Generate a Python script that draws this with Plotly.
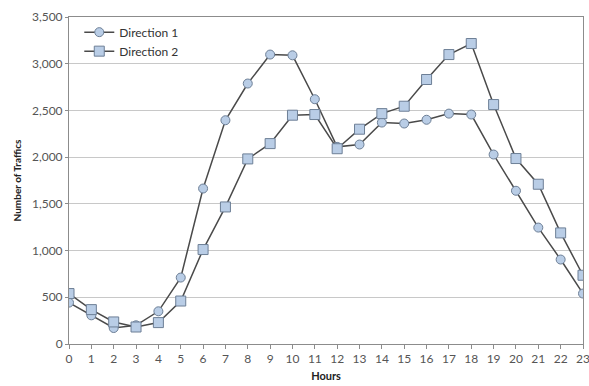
import plotly.graph_objects as go

hours = list(range(24))
direction1 = [443, 307, 171, 200, 350, 711, 1664, 2395, 2788, 3098, 3090, 2620, 2110, 2135,
              2370, 2360, 2400, 2466, 2456, 2028, 1640, 1246, 904, 540]
direction2 = [540, 368, 236, 182, 229, 460, 1011, 1467, 1981, 2145, 2449, 2456, 2090, 2299,
              2466, 2545, 2831, 3098, 3216, 2563, 1985, 1710, 1189, 736]
y_ticks = [0, 500, 1000, 1500, 2000, 2500, 3000, 3500]

line_col = "#4a4a4a"
fill_col = "#b9cde6"

fig = go.Figure()
fig.add_trace(go.Scatter(
    x=hours, y=direction1, name="Direction 1", mode="lines+markers",
    line=dict(color=line_col, width=1.5),
    marker=dict(symbol="circle", size=9, color=fill_col, line=dict(color="#6d7f96", width=1)),
))
fig.add_trace(go.Scatter(
    x=hours, y=direction2, name="Direction 2", mode="lines+markers",
    line=dict(color=line_col, width=1.5),
    marker=dict(symbol="square", size=10, color=fill_col, line=dict(color="#6d7f96", width=1)),
))

fig.update_layout(
    width=589, height=386,
    margin=dict(l=69, r=6, t=17, b=42),
    paper_bgcolor="white", plot_bgcolor="white",
    font=dict(family="Lato, Open Sans, sans-serif", color="#404040", size=11),
    showlegend=True,
    legend=dict(x=0.02, y=0.998, xanchor="left", yanchor="top",
                bgcolor="rgba(0,0,0,0)", font=dict(size=12, color="#333333"),
                itemwidth=30, tracegroupgap=0),
    xaxis=dict(
        range=[0, 23], tickmode="array", tickvals=hours, ticktext=[str(h) for h in hours],
        showgrid=False, showline=True, linecolor="#8c8c8c", linewidth=1, mirror=True,
        ticks="outside", ticklen=4, tickcolor="#8c8c8c", ticklabeloverflow="allow",
        automargin=False,
        title=dict(text="<b>Hours</b>", font=dict(size=11, color="#222222"), standoff=6),
        tickfont=dict(size=12, color="#555555"), zeroline=False,
    ),
    yaxis=dict(
        range=[0, 3500], tickmode="array", tickvals=y_ticks, tickformat=",",
        showgrid=True, gridcolor="#c8c8c8", gridwidth=1,
        showline=True, linecolor="#8c8c8c", linewidth=1, mirror=True,
        ticks="outside", ticklen=3, tickcolor="#8c8c8c", automargin=False,
        title=dict(text="<b>Number of Traffics</b>", font=dict(size=10, color="#222222"), standoff=8),
        tickfont=dict(size=12, color="#555555"), zeroline=False,
    ),
)

fig.write_html("out.html", config={"displayModeBar": False},
               post_script="document.body.style.margin='0';")
